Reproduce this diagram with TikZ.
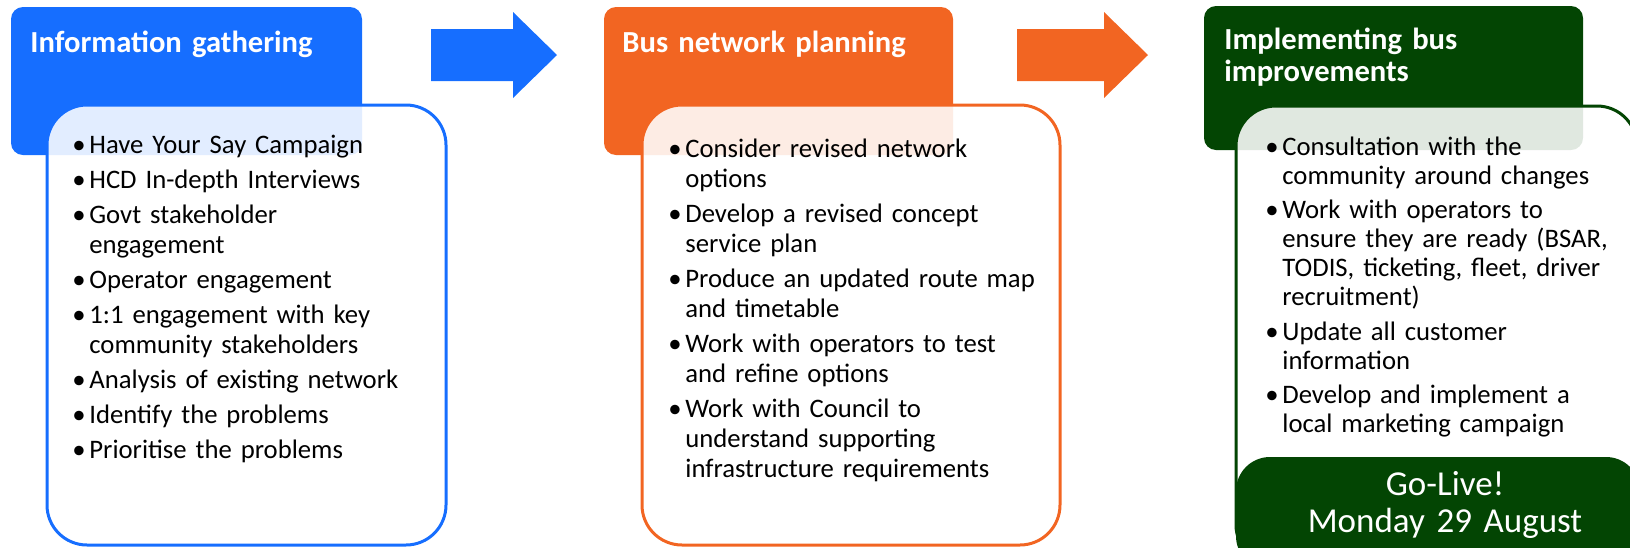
\documentclass[tikz,border=0pt]{standalone}
\usepackage{fontspec}
\setmainfont{Carlito}
\definecolor{infoblue}{RGB}{22,110,255}
\definecolor{planorange}{RGB}{242,101,34}
\definecolor{implgreen}{RGB}{3,69,3}
\newcommand{\bul}[1]{\hangindent=8.5pt\hangafter=1\noindent\makebox[8.5pt][l]{\textbullet}#1\par}
\begin{document}
\begin{tikzpicture}[x=0.5pt,y=-0.5pt,
    head/.style={rounded corners=6pt},
    card/.style={line width=1.5pt,fill=white,fill opacity=0.88,rounded corners=20pt},
    headtext/.style={anchor=base west,inner sep=0pt,text=white,align=left,text width=185pt,
      font=\fontsize{15.3}{16}\selectfont\bfseries},
    items/.style={anchor=base west,inner sep=0pt,align=left,text width=200pt,
      font=\fontsize{13.35}{15}\selectfont}]
    \useasboundingbox (0,0) rectangle (1630,547);
    \clip (0,0) rectangle (1630,547);

    \fill[infoblue,head] (11,7) rectangle (362,155);
    \filldraw[infoblue,card] (47,105) rectangle (446,545);
    \fill[infoblue] (431,29) -- (513,29) -- (513,12) -- (557,55) -- (513,98) -- (513,81) -- (431,81) -- cycle;
    \node[headtext] (gathertitle) at (30,52) {Information gathering};
    \node[items] (gatherlist) at (72,153) {\setlength{\parskip}{2.5pt}%
      \bul{Have Your Say Campaign}%
      \bul{HCD In-depth Interviews}%
      \bul{Govt stakeholder\newline engagement}%
      \bul{Operator engagement}%
      \bul{1:1 engagement with key\newline community stakeholders}%
      \bul{Analysis of existing network}%
      \bul{Identify the problems}%
      \bul{Prioritise the problems}};

    \fill[planorange,head] (604,7) rectangle (953,155);
    \filldraw[planorange,card] (642,105) rectangle (1060,545);
    \fill[planorange] (1017,29) -- (1104,29) -- (1104,12) -- (1148,55) -- (1104,98) -- (1104,81) -- (1017,81) -- cycle;
    \node[headtext] (plantitle) at (622,52) {Bus network planning};
    \node[items] (planlist) at (668,157) {\setlength{\parskip}{2.5pt}%
      \bul{Consider revised network\newline options}%
      \bul{Develop a revised concept\newline service plan}%
      \bul{Produce an updated route map\newline and timetable}%
      \bul{Work with operators to test\newline and refine options}%
      \bul{Work with Council to\newline understand supporting\newline infrastructure requirements}};

    \fill[implgreen,head] (1204,6) rectangle (1583,150);
    \filldraw[implgreen,card] (1236,106) rectangle (1637,565);
    \node[headtext] (impltitle) at (1224,49) {Implementing bus\\improvements};
    \node[items,font=\fontsize{13.35}{14.5}\selectfont] (impllist) at (1265,155) {\setlength{\parskip}{2.75pt}%
      \bul{Consultation with the\newline community around changes}%
      \bul{Work with operators to\newline ensure they are ready (BSAR,\newline TODIS, ticketing, fleet, driver\newline recruitment)}%
      \bul{Update all customer\newline information}%
      \bul{Develop and implement a\newline local marketing campaign}};
    \fill[implgreen,rounded corners=17pt] (1236,457) rectangle (1640,570);
    \node[anchor=base,inner sep=0pt,text=white,align=center,text width=170pt,
      font=\fontsize{17.5}{18.5}\selectfont] (golive) at (1445,495) {Go-Live!\\Monday 29 August};
  \end{tikzpicture}
\end{document}
